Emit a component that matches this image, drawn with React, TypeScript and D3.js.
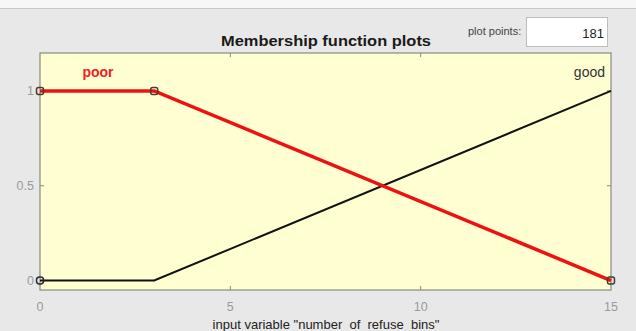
import React from "react";
import * as d3 from "d3";

const xTicks = [0, 5, 10, 15];
const yTicks = [0, 0.5, 1];
const poorX = [0, 3, 15];
const poorY = [1, 1, 0];
const goodX = [0, 3, 15];
const goodY = [0, 0, 1];
const labels = ["poor", "good"];
const plotPoints = "181";
const title = "Membership function plots";
const xLabel = 'input variable "number_of_refuse_bins"';

export default function App() {
  const W = 636, H = 331;
  const L = 40, R = 611, T = 53, B = 290;
  const x = d3.scaleLinear().domain([0, 15]).range([L, R]);
  const y = d3.scaleLinear().domain([-0.05, 1.2]).range([B, T]);
  const line = d3.line<number>().x((d) => x(d[0])).y((d) => y(d[1]));
  const poor = poorX.map((v, i) => [v, poorY[i]] as any);
  const good = goodX.map((v, i) => [v, goodY[i]] as any);
  const font = "'Liberation Sans', Arial, sans-serif";
  return (
    <div style={{ position: "absolute", left: 0, top: 0 }}>
      <svg width={W} height={H} style={{ display: "block" }} fontFamily={font}>
        <rect x={0} y={0} width={W} height={H} fill="#e8e8e8" />
        <rect x={0} y={0} width={W} height={8} fill="#f7f7f7" />
        <line x1={0} x2={W} y1={8.5} y2={8.5} stroke="#c8c8c8" />
        <text x={326} y={46} textAnchor="middle" fontSize={15} fontWeight="bold" fill="#1a1a1a" textLength={210} lengthAdjust="spacingAndGlyphs">{title}</text>
        <text x={468} y={35} fontSize={11} fill="#444">plot points:</text>
        <rect x={526.5} y={17.5} width={81} height={29} fill="#ffffff" stroke="#bdbdbd" />
        <text x={604} y={38} textAnchor="end" fontSize={13} fill="#222">{plotPoints}</text>
        <rect x={L} y={T} width={R - L} height={B - T} fill="#ffffd2" stroke="#8a8a80" strokeWidth={1.2} />
        {xTicks.slice(1, -1).map((t) => (
          <g key={"xt" + t}>
            <line x1={x(t)} x2={x(t)} y1={B} y2={B - 4} stroke="#8a8a80" />
            <line x1={x(t)} x2={x(t)} y1={T} y2={T + 4} stroke="#8a8a80" />
          </g>
        ))}
        {yTicks.map((t) => (
          <g key={"yt" + t}>
            <line x1={L} x2={L + 4} y1={y(t)} y2={y(t)} stroke="#8a8a80" />
            <line x1={R} x2={R - 4} y1={y(t)} y2={y(t)} stroke="#8a8a80" />
          </g>
        ))}
        {xTicks.map((t) => (
          <text key={"xl" + t} x={x(t)} y={311} textAnchor="middle" fontSize={12.5} fill="#9a9a9a">{t}</text>
        ))}
        {yTicks.map((t) => (
          <text key={"yl" + t} x={L - 6} y={y(t) + 4} textAnchor="end" fontSize={12.5} fill="#9a9a9a">{t}</text>
        ))}
        <path d={line(good) || ""} fill="none" stroke="#111" strokeWidth={2} />
        <path d={line(poor) || ""} fill="none" stroke="#ee1111" strokeWidth={3.5} />
        {poor.map((p: any, i: number) => (
          <rect key={"pm" + i} x={x(p[0]) - 3.5} y={y(p[1]) - 3.5} width={7} height={7} rx={2} fill="none" stroke="#4a3a30" strokeWidth={1.5} />
        ))}
        <rect x={x(0) - 3.5} y={y(0) - 3.5} width={7} height={7} rx={3} fill="none" stroke="#2a2a2a" strokeWidth={1.5} />
        <text x={98} y={77} textAnchor="middle" fontSize={14} fontWeight="bold" fill="#ee2222">{labels[0]}</text>
        <text x={605} y={77} textAnchor="end" fontSize={14} fill="#333">{labels[1]}</text>
        <text x={326} y={329} textAnchor="middle" fontSize={13} fill="#222">{xLabel}</text>
      </svg>
    </div>
  );
}
